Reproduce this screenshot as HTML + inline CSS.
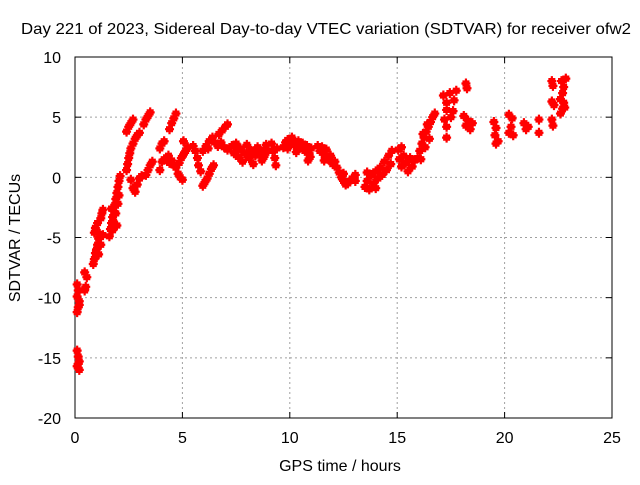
<!DOCTYPE html>
<html><head><meta charset="utf-8"><style>
html,body{margin:0;padding:0;background:#fff;}
svg text{font-family:"Liberation Sans",sans-serif;font-size:16px;fill:#000;}
</style></head><body>
<svg id="chart" width="640" height="480" xmlns="http://www.w3.org/2000/svg">
<rect width="640" height="480" fill="#fff"/>
<text x="21" y="34" textLength="610" lengthAdjust="spacingAndGlyphs">Day 221 of 2023, Sidereal Day-to-day VTEC variation (SDTVAR) for receiver ofw2</text>
<g id="grid"></g>
<g id="axes"></g>
<g id="marks"></g>
<text x="340" y="471" text-anchor="middle">GPS time / hours</text>
<text transform="translate(20,238) rotate(-90)" text-anchor="middle">SDTVAR / TECUs</text>
</svg>
<script>
const xTicks = [0, 5, 10, 15, 20, 25];
const yTicks = [-20, -15, -10, -5, 0, 5, 10];
const samples = [
[0.1,-8.9],[0.15,-9.4],[0.1,-9.9],[0.2,-10.3],[0.15,-10.8],[0.1,-11.2],[0.2,-10.6],
[0.1,-14.4],[0.15,-14.9],[0.2,-15.3],[0.1,-15.7],[0.2,-16.0],[0.15,-15.5],
[0.45,-7.9],[0.55,-8.3],[0.5,-9.1],[0.45,-9.4],
[0.85,-7.2],[0.9,-6.8],[0.95,-6.3],[1.0,-6.0],[1.05,-5.6],[1.1,-5.1],[1.15,-4.7],[0.9,-4.6],[0.95,-4.2],[1.05,-3.8],[1.2,-3.4],[1.25,-3.0],[1.3,-2.7],[1.1,-6.4],[1.2,-5.6],[1.3,-4.8],
[1.6,-4.9],[1.65,-4.3],[1.7,-3.8],[1.75,-3.3],[1.8,-2.8],[1.85,-2.3],[1.9,-1.8],[1.95,-1.3],[2.0,-0.8],[2.05,-0.3],[2.1,0.1],[1.7,-2.6],[1.8,-3.7],[1.9,-3.0],[2.0,-2.2],[2.05,-1.5],[1.75,-4.4],[1.95,-4.0],
[2.4,0.6],[2.45,1.1],[2.5,1.6],[2.55,2.0],[2.6,2.4],[2.7,2.8],[2.8,3.2],[2.9,3.5],[3.0,3.7],
[2.4,3.8],[2.5,4.2],[2.6,4.5],[2.7,4.8],
[3.2,4.4],[3.3,4.8],[3.4,5.1],[3.5,5.4],
[2.6,-0.2],[2.7,-0.9],[2.8,-1.2],[2.9,-0.6],[3.0,-0.1],[3.1,0.1],
[3.3,0.2],[3.4,0.6],[3.5,1.0],[3.6,1.3],
[4.4,4.0],[4.5,4.5],[4.6,4.9],[4.7,5.3],
[3.95,2.4],[4.05,2.8],[4.15,3.0],
[3.95,0.6],[4.05,1.3],[4.15,1.5],
[4.35,1.8],[4.5,1.4],[4.6,1.0],[4.7,0.8],[4.8,0.3],[4.9,0.0],[5.0,-0.2],[4.85,1.2],[4.95,1.6],[5.05,1.9],[5.15,2.2],[5.25,2.5],[4.4,1.2],
[5.05,3.0],
[5.5,2.6],[5.6,2.2],[5.7,1.6],[5.75,1.0],[5.85,0.5],
[5.95,2.2],[6.1,2.6],[6.25,3.0],[6.4,3.3],[6.5,2.9],[6.2,2.4],
[5.95,-0.7],[6.05,-0.4],[6.15,-0.1],[6.25,0.3],[6.35,0.7],[6.45,1.0],
[6.7,3.6],[6.85,3.9],[7.0,4.2],[7.1,4.4],
[6.65,2.6],[6.8,2.9],[6.95,2.5],[7.1,2.3],
[7.3,2.6],[7.4,2.0],[7.5,2.8],[7.6,1.7],[7.7,2.4],[7.8,1.3],[7.9,2.0],[8.0,2.7],[8.1,1.6],[8.2,2.2],[8.3,1.1],[8.4,1.8],[8.5,2.5],[8.6,2.0],[8.7,1.4],[8.8,2.3],[8.9,2.7],[9.0,2.2],[7.6,2.3],[8.0,1.9],[8.4,2.3],[8.8,1.7],
[9.15,2.8],[9.2,2.2],[9.3,1.6],[9.35,1.0],[9.4,2.4],
[9.7,2.5],[9.8,2.9],[9.9,3.1],[10.0,2.7],[10.1,3.3],[10.2,3.0],[10.3,2.6],[10.4,3.0],[10.5,2.5],[10.6,2.8],[10.7,2.2],[10.8,2.6],[10.9,2.0],[11.0,2.4],[10.3,2.1],[9.9,2.4],[10.85,1.4],[10.95,1.7],
[11.3,2.6],[11.4,2.2],[11.5,2.5],[11.6,1.9],[11.7,2.3],[11.8,1.5],[11.9,1.8],[12.0,1.1],[12.1,1.3],[12.2,0.8],[11.6,1.4],
[12.3,0.4],[12.4,0.0],[12.5,-0.3],[12.6,-0.6],[12.7,-0.5],[12.8,-0.3],[12.9,-0.1],[12.5,0.3],
[13.05,0.2],[13.05,-0.3],
[13.5,-0.8],[13.6,-0.3],[13.7,-1.0],[13.8,0.2],[13.9,-0.5],[14.0,0.5],[14.1,-0.1],[14.2,0.8],[14.3,0.2],[14.4,1.3],[14.5,0.6],[14.6,1.8],[14.7,1.1],[14.75,2.2],[13.6,0.4],[14.0,-0.9],
[15.05,2.3],[15.1,1.5],[15.2,0.9],[15.3,1.8],[15.4,1.2],[15.5,0.5],[15.6,1.6],[15.7,0.9],[15.8,1.4],[15.2,2.5],
[15.95,1.6],[16.05,2.2],[16.15,2.8],[16.25,3.3],[16.35,3.8],[16.45,4.2],[16.55,4.6],[16.65,5.0],[16.75,5.3],[16.1,1.5],[16.3,2.5],[16.5,3.2],[16.2,3.6],[16.4,4.4],
[17.15,6.8],[17.3,6.2],[17.45,7.0],[17.3,5.6],[17.5,5.0],[17.2,4.8],[17.65,6.4],[17.75,7.2],[17.6,5.5],
[17.3,4.2],[17.3,3.3],
[18.2,7.8],[18.25,7.4],
[18.1,5.1],[18.3,4.7],[18.2,4.3],[18.4,4.0],[18.5,4.5],
[19.5,4.6],[19.6,4.1],[19.55,3.5],[19.7,3.0],[19.6,2.8],
[20.2,5.2],[20.35,4.9],[20.3,4.2],[20.2,3.7],[20.4,3.5],
[20.9,4.5],[21.0,4.0],[21.1,4.2],
[21.6,4.8],[21.6,3.7],
[22.2,8.0],[22.25,7.6],[22.2,6.3],[22.3,6.0],[22.2,4.8],[22.25,4.3],
[22.65,8.0],[22.75,7.5],[22.7,7.0],[22.6,6.5],[22.75,6.2],[22.7,5.7],[22.6,5.3],[22.8,5.8],[22.85,8.2]
];
const X0=75, X1=612, Y0=418, Y1=57, XMIN=0, XMAX=25, YMIN=-20, YMAX=10;
function sx(t){return X0+(t-XMIN)/(XMAX-XMIN)*(X1-X0);}
function sy(v){return Y0-(v-YMIN)/(YMAX-YMIN)*(Y0-Y1);}
const NS="http://www.w3.org/2000/svg";
function mk(tag,attrs,parent){const e=document.createElementNS(NS,tag);for(const k in attrs)e.setAttribute(k,attrs[k]);parent.appendChild(e);return e;}
const grid=document.getElementById('grid'), axes=document.getElementById('axes'), marks=document.getElementById('marks');
xTicks.forEach(t=>{
  const x=sx(t);
  if(t>XMIN&&t<XMAX){const g=mk('line',{x1:x,x2:x,y1:Y1,y2:Y0,stroke:'#a0a0a0','stroke-dasharray':'2,3'},grid);
    
    }
  mk('line',{x1:x,x2:x,y1:Y0,y2:Y0-6,stroke:'#000'},axes);
  mk('line',{x1:x,x2:x,y1:Y1,y2:Y1+6,stroke:'#000'},axes);
  const l=mk('text',{x:x,y:Y0+25,'text-anchor':'middle'},axes);l.textContent=t;
  
  
});
yTicks.forEach(v=>{
  const y=sy(v);
  if(v>YMIN&&v<YMAX){const g=mk('line',{x1:X0,x2:X1,y1:y,y2:y,stroke:'#a0a0a0','stroke-dasharray':'2,3'},grid);
    
    }
  mk('line',{x1:X0,x2:X0+6,y1:y,y2:y,stroke:'#000'},axes);
  mk('line',{x1:X1,x2:X1-6,y1:y,y2:y,stroke:'#000'},axes);
  const l=mk('text',{x:X0-14,y:y+6,'text-anchor':'end'},axes);l.textContent=v;
  
  
});
const f=mk('rect',{x:X0,y:Y1,width:X1-X0,height:Y0-Y1,fill:'none',stroke:'#000'},axes);


samples.forEach(p=>{
  const x=sx(p[0]), y=sy(p[1]);
  const m=mk('path',{d:`M${x-4.5},${y}H${x+4.5}M${x},${y-5}V${y+5}M${x-3.5},${y-2}H${x+3.5}M${x-3.5},${y+2}H${x+3.5}`,stroke:'#ff0000','stroke-width':2.2,fill:'none'},marks);
  
  
});
</script>
</body></html>
